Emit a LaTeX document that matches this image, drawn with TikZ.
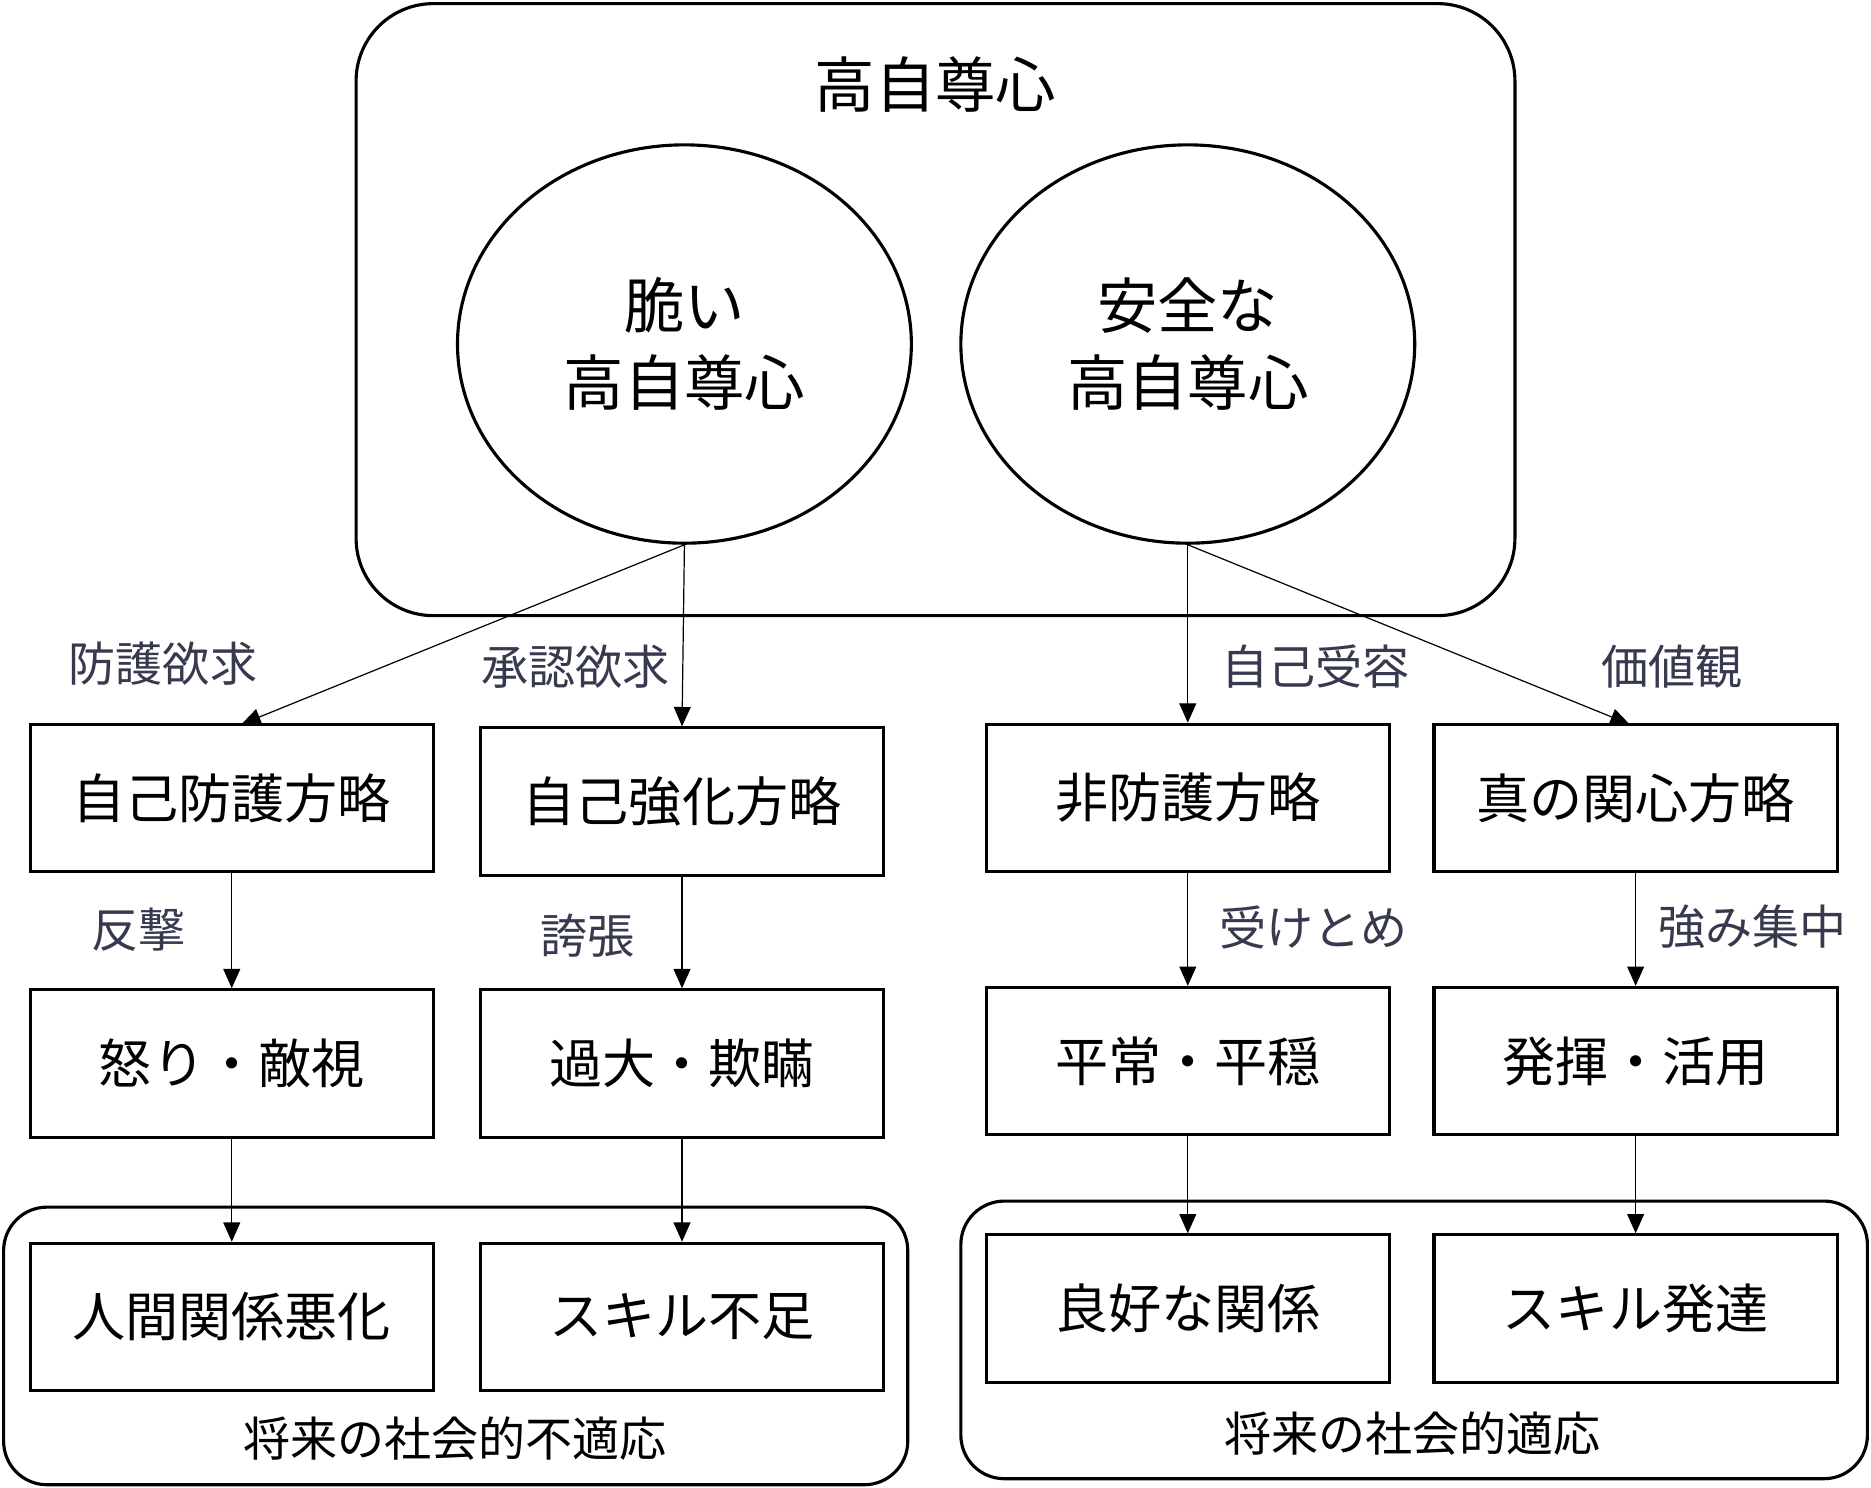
\documentclass[tikz,border=0pt]{standalone}
\usepackage{fontspec}
\setmainfont{Noto Sans CJK JP}
\usetikzlibrary{shapes.geometric,arrows.meta}
\definecolor{labc}{RGB}{55,58,78}
\begin{document}
\begin{tikzpicture}[x=0.5pt,y=-0.5pt,
  box/.style={draw,line width=1.3pt,minimum width=167pt,minimum height=61pt,inner sep=0,font=\fontsize{22}{26}\selectfont},
  ell/.style={draw,ellipse,line width=1.3pt,minimum width=188pt,minimum height=165pt,align=center,font=\fontsize{25}{32}\selectfont},
  grp/.style={draw,line width=1.3pt,rounded corners=18pt},
  lab/.style={text=labc,font=\fontsize{19.5}{22}\selectfont},
  arr/.style={-{Triangle[length=8pt,width=7pt]},line width=0.5pt}]
\useasboundingbox (0,0) rectangle (1550,1232);
\draw[line width=1.3pt,rounded corners=32pt] (295,3) rectangle (1255,510);
\node[font=\fontsize{25}{30}\selectfont] (title) at (775,70) {高自尊心};
\node[ell] (e1) at (567,285) {脆い\\高自尊心};
\node[ell] (e2) at (984,285) {安全な\\高自尊心};
\draw[grp] (3,1000) rectangle (752,1230);
\draw[grp] (796,995) rectangle (1547,1225);
\node[box] (a1) at (192,661) {自己防護方略};
\node[box] (b1) at (565,664) {自己強化方略};
\node[box] (c1) at (984,661) {非防護方略};
\node[box] (d1) at (1355,661) {真の関心方略};
\node[box] (a2) at (192,881) {怒り・敵視};
\node[box] (b2) at (565,881) {過大・欺瞞};
\node[box] (c2) at (984,879) {平常・平穏};
\node[box] (d2) at (1355,879) {発揮・活用};
\node[box] (a3) at (192,1091) {人間関係悪化};
\node[box] (b3) at (565,1091) {スキル不足};
\node[box] (c3) at (984,1084) {良好な関係};
\node[box] (d3) at (1355,1084) {スキル発達};
\node[font=\fontsize{19.5}{22}\selectfont] (g1) at (377,1192) {将来の社会的不適応};
\node[font=\fontsize{19.5}{22}\selectfont] (g2) at (1170,1188) {将来の社会的適応};
\node[lab] (l1) at (135,550) {防護欲求};
\node[lab] (l2) at (477,552) {承認欲求};
\node[lab] (l3) at (1090,552) {自己受容};
\node[lab] (l4) at (1385,552) {価値観};
\node[lab] (l5) at (115,770) {反撃};
\node[lab] (l6) at (487,775) {誇張};
\node[lab] (l7) at (1088,768) {受けとめ};
\node[lab] (l8) at (1452,768) {強み集中};
\coordinate (t1) at (200,600);
\coordinate (t4) at (1350,600);
\draw[arr] (e1.south) -- (t1);
\draw[arr] (e1.south) -- (b1.north);
\draw[arr] (e2.south) -- (c1.north);
\draw[arr] (e2.south) -- (t4);
\foreach \p/\q in {a1/a2,b1/b2,c1/c2,d1/d2,a2/a3,b2/b3,c2/c3,d2/d3}
  \draw[arr] (\p.south) -- (\q.north);
\end{tikzpicture}
\end{document}
